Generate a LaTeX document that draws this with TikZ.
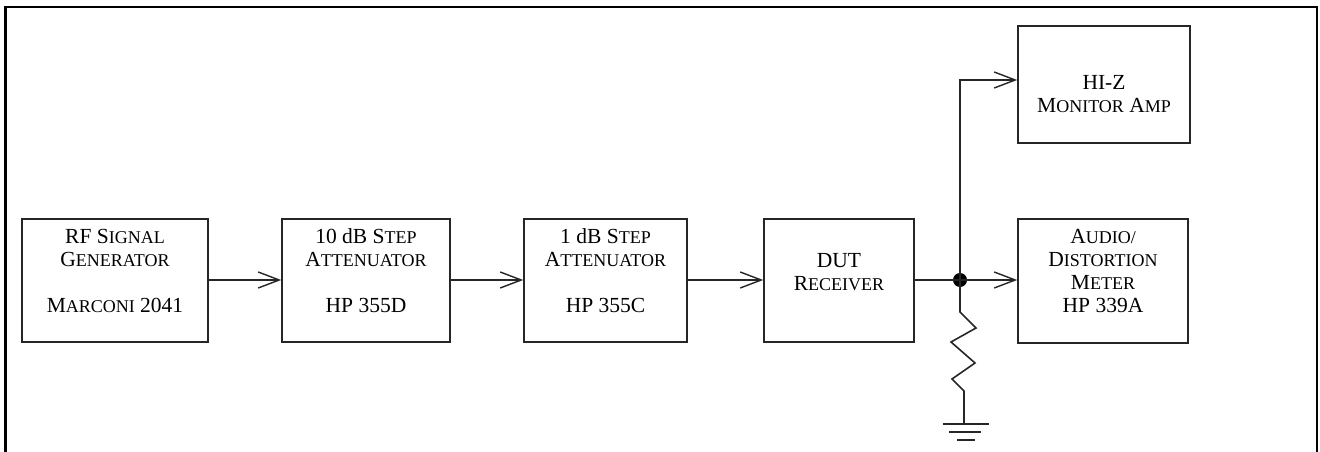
\documentclass[tikz,border=0pt]{standalone}
\usepackage{fontspec}
\setmainfont{Liberation Serif}
\usetikzlibrary{arrows.meta}
\newcommand\smc[1]{{\fontsize{18}{23.3}\selectfont #1}}
\begin{document}
\begin{tikzpicture}[x=1pt,y=-1pt,
  blk/.style={draw=black!85, line width=1.6pt, inner sep=0pt, fill=none},
  lbl/.style={anchor=base, inner sep=0pt, font=\fontsize{21.5}{23.3}\selectfont},
  con/.style={draw=black!85, line width=1.6pt},
  arr/.style={-{Straight Barb[length=21pt,width=16pt,line width=1.4pt]}},
  frm/.style={draw=black, line width=2.7pt},
  dot/.style={circle, fill=black, minimum size=14pt, inner sep=0pt}]
\useasboundingbox (0,0) rectangle (1320,452);
% frame
\coordinate (f1) at (5.5,460);
\coordinate (f2) at (5.5,7);
\coordinate (f3) at (1317,7);
\coordinate (f4) at (1317,460);
\draw[frm] (f1) -- (f2) -- (f3) -- (f4);
% boxes
\node[blk, minimum width=186pt, minimum height=123pt] (b1) at (115,280.5) {};
\node[blk, minimum width=168pt, minimum height=123pt] (b2) at (366,280.5) {};
\node[blk, minimum width=163pt, minimum height=123pt] (b3) at (605.5,280.5) {};
\node[blk, minimum width=150pt, minimum height=123pt] (b4) at (839,280.5) {};
\node[blk, minimum width=170pt, minimum height=124pt] (b5) at (1103,281) {};
\node[blk, minimum width=172pt, minimum height=117pt] (b6) at (1104,84.5) {};
% labels
\node[lbl] (t1) at (115,243) {\begin{tabular}[t]{@{}c@{}}RF S\smc{IGNAL}\\ G\smc{ENERATOR}\\ \\ M\smc{ARCONI} 2041\end{tabular}};
\node[lbl] (t2) at (366,243) {\begin{tabular}[t]{@{}c@{}}10 dB S\smc{TEP}\\ A\smc{TTENUATOR}\\ \\ HP 355D\end{tabular}};
\node[lbl] (t3) at (605.5,243) {\begin{tabular}[t]{@{}c@{}}1 dB S\smc{TEP}\\ A\smc{TTENUATOR}\\ \\ HP 355C\end{tabular}};
\node[lbl] (t4) at (839,267) {\begin{tabular}[t]{@{}c@{}}DUT\\ R\smc{ECEIVER}\end{tabular}};
\node[lbl] (t5) at (1103,243) {\begin{tabular}[t]{@{}c@{}}A\smc{UDIO/}\\ D\smc{ISTORTION}\\ M\smc{ETER}\\ HP 339A\end{tabular}};
\node[lbl] (t6) at (1104,89) {\begin{tabular}[t]{@{}c@{}}HI-Z\\ M\smc{ONITOR} A\smc{MP}\end{tabular}};
% connectors
\coordinate (y0) at (0,280);
\draw[con,arr] (b1.east |- y0) -- (b2.west |- y0);
\draw[con,arr] (b2.east |- y0) -- (b3.west |- y0);
\draw[con,arr] (b3.east |- y0) -- (b4.west |- y0);
\node[dot] (j) at (960,280) {};
\draw[con] (b4.east |- y0) -- (j.center);
\draw[con,arr] (j.center) -- (j.center -| b5.west);
\coordinate (k) at (960,80);
\draw[con,arr] (j.center) -- (k) -- (k -| b6.west);
% resistor to ground
\coordinate (r0) at (960,312);
\coordinate (r1) at (976,328);
\coordinate (r2) at (951,342);
\coordinate (r3) at (975,363);
\coordinate (r4) at (952,379);
\coordinate (r5) at (964,391);
\coordinate (g) at (964,424);
\draw[con, line join=miter] (j.center) -- (r0) -- (r1) -- (r2) -- (r3) -- (r4) -- (r5) -- (g);
\draw[con] ([xshift=-21pt]g) -- ([xshift=25pt]g);
\draw[con] ([xshift=-15pt,yshift=-8pt]g) -- ([xshift=17pt,yshift=-8pt]g);
\draw[con] ([xshift=-7pt,yshift=-16pt]g) -- ([xshift=11pt,yshift=-16pt]g);
\end{tikzpicture}
\end{document}
